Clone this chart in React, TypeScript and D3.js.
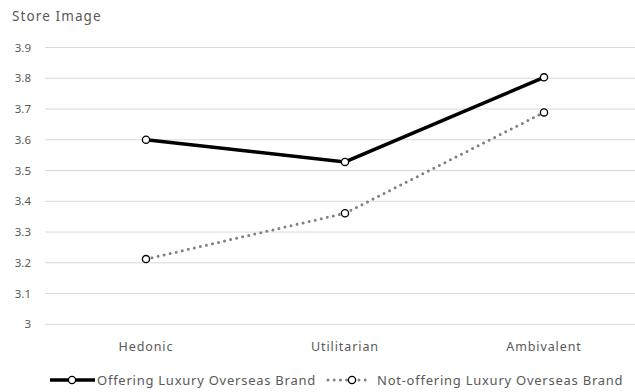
import React from "react";
import * as d3 from "d3";

const categories = ["Hedonic", "Utilitarian", "Ambivalent"];
const offering = [3.6, 3.528, 3.803];
const notOffering = [3.212, 3.361, 3.689];
const yTicks = [3, 3.1, 3.2, 3.3, 3.4, 3.5, 3.6, 3.7, 3.8, 3.9];
const seriesNames = ["Offering Luxury Overseas Brand", "Not-offering Luxury Overseas Brand"];
const axisTitle = "Store Image";

const W = 635;
const H = 392;
const FONT = "'Noto Sans', 'Open Sans', sans-serif";
const TEXT = "#595959";

export default function App() {
  const x = d3.scalePoint<string>().domain(categories).range([146, 544]);
  const y = d3.scaleLinear().domain([3, 3.9]).range([324.3, 47.5]);
  const line = d3
    .line<number>()
    .x((_, i) => x(categories[i]) as number)
    .y((d) => y(d));

  return (
    <svg
      width={W}
      height={H}
      style={{ position: "absolute", left: 0, top: 0, background: "#fff" }}
      fontFamily={FONT}
    >
      <text x={12} y={21} fontSize={13.5} letterSpacing={1.1} fill={TEXT}>
        {axisTitle}
      </text>
      {yTicks.map((t) => (
        <g key={t}>
          <line x1={45} x2={635} y1={y(t)} y2={y(t)} stroke="#d9d9d9" strokeWidth={1} />
          <text x={31} y={y(t)} dy="0.35em" textAnchor="end" fontSize={11.5} fill={TEXT}>
            {d3.format("")(t)}
          </text>
        </g>
      ))}
      {categories.map((c) => (
        <text key={c} x={x(c)} y={351} textAnchor="middle" fontSize={12.5} letterSpacing={0.9} fill={TEXT}>
          {c}
        </text>
      ))}
      <path d={line(notOffering) || ""} fill="none" stroke="#808080" strokeWidth={3} strokeDasharray="0 6.2" strokeLinecap="round" />
      <path d={line(offering) || ""} fill="none" stroke="#000" strokeWidth={3.5} />
      {notOffering.map((v, i) => (
        <circle key={"n" + i} cx={x(categories[i])} cy={y(v)} r={3.6} fill="#fff" stroke="#000" strokeWidth={1.3} />
      ))}
      {offering.map((v, i) => (
        <circle key={"o" + i} cx={x(categories[i])} cy={y(v)} r={3.6} fill="#fff" stroke="#000" strokeWidth={1.3} />
      ))}
      {/* legend */}
      <g>
        <line x1={50} x2={95} y1={380} y2={380} stroke="#000" strokeWidth={3.5} />
        <circle cx={72} cy={380} r={3.6} fill="#fff" stroke="#000" strokeWidth={1.3} />
        <text x={97} y={380} dy="0.35em" fontSize={13} letterSpacing={0.75} fill={TEXT}>
          {seriesNames[0]}
        </text>
        <line x1={328} x2={371} y1={380} y2={380} stroke="#808080" strokeWidth={3} strokeDasharray="0 6.2" strokeLinecap="round" />
        <circle cx={352} cy={380} r={3.6} fill="#fff" stroke="#000" strokeWidth={1.3} />
        <text x={377} y={380} dy="0.35em" fontSize={13} letterSpacing={0.75} fill={TEXT}>
          {seriesNames[1]}
        </text>
      </g>
    </svg>
  );
}
